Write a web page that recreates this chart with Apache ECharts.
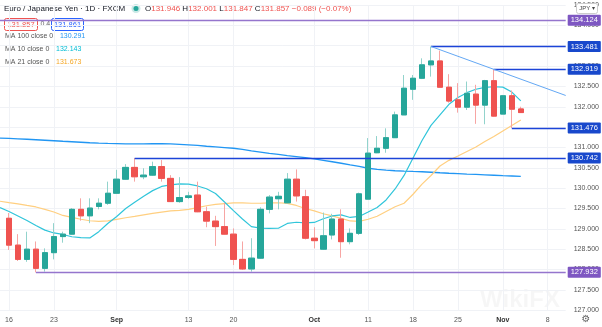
<!DOCTYPE html>
<html><head><meta charset="utf-8">
<script src="https://cdn.jsdelivr.net/npm/echarts@6/dist/echarts.min.js"></script>
<style>html,body{margin:0;padding:0;background:#fff}#c{width:602px;height:327px}</style>
</head><body><div id="c"></div>
<script>
// ---- categories (trading days) ----
const dates = [
'2021-08-13',
'2021-08-16','2021-08-17','2021-08-18','2021-08-19','2021-08-20',
'2021-08-23','2021-08-24','2021-08-25','2021-08-26','2021-08-27',
'2021-08-30','2021-08-31','2021-09-01','2021-09-02','2021-09-03',
'2021-09-06','2021-09-07','2021-09-08','2021-09-09','2021-09-10',
'2021-09-13','2021-09-14','2021-09-15','2021-09-16','2021-09-17',
'2021-09-20','2021-09-21','2021-09-22','2021-09-23','2021-09-24',
'2021-09-27','2021-09-28','2021-09-29','2021-09-30','2021-10-01',
'2021-10-04','2021-10-05','2021-10-06','2021-10-07','2021-10-08',
'2021-10-11','2021-10-12','2021-10-13','2021-10-14','2021-10-15',
'2021-10-18','2021-10-19','2021-10-20','2021-10-21','2021-10-22',
'2021-10-25','2021-10-26','2021-10-27','2021-10-28','2021-10-29',
'2021-11-01','2021-11-02','2021-11-03','2021-11-04','2021-11-05',
'2021-11-08','2021-11-09','2021-11-10'];

// ---- x tick labels ----
const tickDates = ['2021-08-16','2021-08-23','2021-09-01','2021-09-13','2021-09-20','2021-10-01','2021-10-11','2021-10-18','2021-10-25','2021-11-01','2021-11-08'];
const tickTexts = ['16','23','Sep','13','20','Oct','11','18','25','Nov','8'];

// ---- OHLC ----
const opens = [null,
129.26,128.60,128.25,128.50,128.03,
128.415,128.81,128.87,129.48,129.32,
129.55,129.63,129.875,130.22,130.51,
130.28,130.32,130.53,130.24,129.67,
129.77,129.83,129.42,129.19,129.055,
128.87,128.25,128.015,128.28,129.48,
129.74,129.64,130.22,129.79,128.77,
128.50,128.85,129.24,128.685,128.89,
129.73,130.87,130.98,131.24,131.80,
132.43,132.70,133.03,133.125,132.48,
132.17,131.99,132.31,132.04,132.64,
131.82,132.27,131.946,null,null,
null,null,null];
const closes = [null,
128.60,128.25,128.50,128.03,128.415,
128.81,128.87,129.48,129.32,129.51,
129.63,129.875,130.22,130.51,130.28,
130.32,130.53,130.24,129.67,129.77,
129.81,129.42,129.19,129.055,128.87,
128.25,128.015,128.28,129.48,129.78,
129.80,130.22,129.81,128.77,128.71,
128.83,129.24,128.685,128.89,129.86,
130.86,130.98,131.24,131.80,132.455,
132.70,133.03,133.125,132.48,132.14,
131.99,132.33,132.04,132.64,131.77,
132.27,131.94,131.857,null,null,
null,null,null];
const lows = [null,
128.48,128.21,128.19,127.932,127.95,
128.25,128.66,128.85,129.20,129.14,
129.48,129.59,129.86,130.20,130.16,
130.22,130.30,130.16,129.66,129.64,
129.73,129.41,129.04,128.58,128.86,
128.11,127.99,127.95,128.26,129.38,
129.48,129.63,129.67,128.74,128.52,
128.48,128.74,128.29,128.62,128.85,
129.73,130.86,130.87,131.24,131.80,
132.17,132.68,132.74,132.47,132.10,
131.855,131.92,131.58,131.57,131.76,
131.82,131.476,131.847,null,null,
null,null,null];
const highs = [null,
129.39,128.87,128.93,128.69,128.52,
129.14,128.93,129.51,129.75,129.75,
129.75,130.16,130.45,130.59,130.742,
130.49,130.65,130.69,130.32,130.27,
129.91,130.16,129.545,129.32,129.64,
129.01,128.69,128.77,129.53,129.83,
129.91,130.37,130.46,129.96,129.04,
129.40,129.37,129.48,129.01,129.89,
131.23,131.28,131.47,131.88,132.78,
132.78,133.19,133.481,133.38,132.80,
132.58,132.62,132.54,132.66,132.919,
132.29,132.40,132.001,null,null,
null,null,null];

// ---- moving averages ----
const ma100 = [131.231,131.221,131.211,131.201,131.189,131.177,131.165,131.152,131.140,131.128,
131.115,131.106,131.098,131.093,131.088,131.086,131.088,131.091,131.091,131.086,
131.076,131.064,131.049,131.029,131.015,130.998,130.980,130.951,130.918,130.887,
130.855,130.828,130.801,130.776,130.752,130.717,130.683,130.649,130.612,130.572,
130.533,130.489,130.462,130.442,130.428,130.418,130.410,130.403,130.391,130.378,
130.366,130.356,130.346,130.337,130.327,130.317,130.307,130.299,130.291,null,null,null,null,null];
const ma10 = [129.521,129.428,129.317,129.206,129.084,128.968,128.899,128.862,128.806,128.784,
128.776,128.931,129.133,129.305,129.501,129.654,129.801,129.939,130.042,130.081,
130.103,130.098,130.054,129.985,129.870,129.661,129.447,129.243,129.054,129.017,
129.012,129.015,129.133,129.162,129.145,129.157,129.248,129.317,129.342,129.280,
129.305,129.415,129.526,129.710,129.980,130.312,130.742,131.172,131.541,131.799,
132.061,132.229,132.346,132.430,132.474,132.491,132.482,132.360,132.143,null,null,null,null,null];
const ma21 = [129.678,129.644,129.614,129.575,129.538,129.477,129.415,129.329,129.280,129.236,
129.199,129.182,129.194,129.231,129.273,129.305,129.342,129.378,129.410,129.440,
129.452,129.477,129.523,129.568,129.600,129.622,129.636,129.636,129.629,129.629,
129.636,129.641,129.624,129.575,129.501,129.440,129.371,129.317,129.256,129.194,
129.182,129.236,129.310,129.428,129.543,129.630,129.850,130.100,130.310,130.545,
130.683,130.790,130.900,131.010,131.145,131.270,131.405,131.540,131.673,null,null,null,null,null];

// ---- drawn levels ----
const extremeLevels = [134.124, 127.932];
const extremeStarts = ['2021-08-13', '2021-08-19'];
const swingLevels = [133.481, 132.919, 131.476, 130.742];
const swingStarts = ['2021-10-20', '2021-10-29', '2021-11-02', '2021-09-03'];
const lastPrice = 131.857;
const trendLine = [['2021-10-20', 133.481], ['2021-11-10', 132.277]];

// ---- legend values ----
const legendOHLC = ['131.946', '132.001', '131.847', '131.857'];
const legendChange = '−0.089 (−0.07%)';
const bidAsk = ['131.857', '0.4', '131.861'];
const maLegend = [['MA 100 close 0', '130.291'], ['MA 10 close 0', '132.143'], ['MA 21 close 0', '131.673']];

// ---- build ----
const UP = '#26a69a', DOWN = '#ef5350';
const full = dates.map((d, i) => opens[i] == null ? '-' : [opens[i], closes[i], lows[i], highs[i]]);
const bodies = dates.map((d, i) => opens[i] == null ? '-' : [opens[i], closes[i], Math.min(opens[i], closes[i]), Math.max(opens[i], closes[i])]);
const lastDate = dates[dates.length - 1];
const FONT = '"Liberation Sans", Arial, sans-serif';

function levelLine(v, start, lineColor, boxColor) {
  return [{
    coord: [start, v],
    lineStyle: { color: lineColor, width: 1.3, type: 'solid' },
    label: { show: true, position: 'end', distance: 2, formatter: v.toFixed(3), color: '#fff',
      backgroundColor: boxColor, padding: [2, 3, 1, 3], borderRadius: 1, fontSize: 7.5, fontFamily: FONT }
  }, { coord: [lastDate, v] }];
}
const mlData = [];
extremeLevels.forEach((v, i) => mlData.push(levelLine(v, extremeStarts[i], '#9575cd', '#7e57c2')));
swingLevels.forEach((v, i) => mlData.push(levelLine(v, swingStarts[i], '#1c44d8', '#1848cc')));
mlData.push([{ coord: trendLine[0], lineStyle: { color: '#64a8f4', width: 1, type: 'solid' }, label: { show: false } }, { coord: trendLine[1] }]);
const lp = levelLine(lastPrice, dates[58], DOWN, DOWN);
lp[0].lineStyle = { opacity: 0 };
mlData.push(lp);

const isTick = (i, v) => tickDates.indexOf(v) >= 0;

function rowText(y, key, val, col) {
  return { type: 'text', x: 5, y: y, style: { text: '{k|' + key + '}  {v|' + val + '}', verticalAlign: 'middle',
    rich: { k: { fill: '#555', font: '7px ' + FONT }, v: { fill: col, font: '7px ' + FONT } } } };
}

const chart = echarts.init(document.getElementById('c'), null, { renderer: 'canvas' });
chart.setOption({
  animation: false,
  backgroundColor: '#fff',
  grid: { left: -3, right: 35.5, top: 5, bottom: 16.75 },
  xAxis: {
    type: 'category', data: dates, boundaryGap: false,
    axisLine: { show: false }, axisTick: { show: false },
    axisLabel: {
      interval: isTick, margin: 6, fontSize: 7, color: '#555', fontFamily: FONT,
      formatter: v => { const t = tickTexts[tickDates.indexOf(v)]; return /[A-Z]/.test(t) ? '{b|' + t + '}' : t; },
      rich: { b: { fontSize: 7, fontWeight: 'bold', color: '#333', fontFamily: FONT } }
    },
    splitLine: { show: true, interval: isTick, lineStyle: { color: '#f0f2f6', width: 1 } }
  },
  yAxis: {
    type: 'value', position: 'right', min: 127, max: 134.5, interval: 0.5,
    axisLine: { show: false }, axisTick: { show: false },
    axisLabel: { margin: 8, fontSize: 7, color: '#555', fontFamily: FONT, formatter: v => v.toFixed(3) },
    splitLine: { lineStyle: { color: '#f0f2f6', width: 1 } }
  },
  series: [
    { type: 'line', data: ma100, showSymbol: false, lineStyle: { color: '#2196f3', width: 1.3 }, z: 2 },
    { type: 'line', data: ma21, showSymbol: false, lineStyle: { color: '#ffcf80', width: 1.2 }, z: 2 },
    { type: 'line', data: ma10, showSymbol: false, lineStyle: { color: '#30c5da', width: 1.2 }, z: 2 },
    { type: 'candlestick', data: full, barWidth: 6, z: 3,
      itemStyle: { color: '#92d3cc', color0: '#f7a5a3', borderColor: '#92d3cc', borderColor0: '#f7a5a3', borderWidth: 1 } },
    { type: 'candlestick', data: bodies, barWidth: 6, z: 4,
      itemStyle: { color: UP, color0: DOWN, borderColor: UP, borderColor0: DOWN, borderWidth: 1 },
      markLine: { symbol: ['none', 'none'], silent: true, animation: false, data: mlData } }
  ],
  graphic: [
    { type: 'text', x: 4, y: 8.5, style: { text: 'Euro / Japanese Yen · 1D · FXCM', font: '8px ' + FONT, fill: '#131722', verticalAlign: 'middle' } },
    { type: 'circle', shape: { cx: 136, cy: 8.5, r: 4.5 }, style: { fill: 'rgba(38,166,154,0.25)' } },
    { type: 'circle', shape: { cx: 136, cy: 8.5, r: 2.5 }, style: { fill: UP } },
    { type: 'text', x: 145, y: 8.5, style: {
        text: '{k|O}{v|' + legendOHLC[0] + '} {k|H}{v|' + legendOHLC[1] + '} {k|L}{v|' + legendOHLC[2] + '} {k|C}{v|' + legendOHLC[3] + '} {v|' + legendChange + '}',
        font: '8px ' + FONT, verticalAlign: 'middle',
        rich: { k: { fill: '#131722', font: '8px ' + FONT }, v: { fill: DOWN, font: '8px ' + FONT } } } },
    { type: 'rect', shape: { x: 4.5, y: 18.5, width: 33, height: 12, r: 2 }, style: { fill: '#fff', stroke: DOWN, lineWidth: 1 } },
    { type: 'text', x: 21, y: 24.5, style: { text: bidAsk[0], font: '7.5px ' + FONT, fill: DOWN, align: 'center', verticalAlign: 'middle' } },
    { type: 'text', x: 40.5, y: 24.5, style: { text: bidAsk[1], font: '7px ' + FONT, fill: '#666', verticalAlign: 'middle' } },
    { type: 'rect', shape: { x: 51.5, y: 18.5, width: 32, height: 12, r: 2 }, style: { fill: '#fff', stroke: '#2962ff', lineWidth: 1 } },
    { type: 'text', x: 67.5, y: 24.5, style: { text: bidAsk[2], font: '7.5px ' + FONT, fill: '#2962ff', align: 'center', verticalAlign: 'middle' } },
    rowText(36.5, maLegend[0][0], maLegend[0][1], '#2196f3'),
    rowText(49.5, maLegend[1][0], maLegend[1][1], '#00bcd4'),
    rowText(62.5, maLegend[2][0], maLegend[2][1], '#f5a623'),
    { type: 'rect', shape: { x: 576.5, y: 3.5, width: 21, height: 10, r: 2 }, style: { fill: '#fff', stroke: '#ccc', lineWidth: 1 }, z: 100 },
    { type: 'text', x: 587, y: 8.5, z: 101, style: { text: 'JPY ▾', font: '6px ' + FONT, fill: '#444', align: 'center', verticalAlign: 'middle' } },
    { type: 'text', x: 586, y: 319, style: { text: '⚙', font: '10px "DejaVu Sans"', fill: '#666', align: 'center', verticalAlign: 'middle' } },
    { type: 'text', x: 520, y: 300, style: { text: 'WikiFX', font: 'bold 24px ' + FONT, fill: 'rgba(0,0,0,0.035)', align: 'center', verticalAlign: 'middle' } }
  ]
});
</script>
</body></html>
